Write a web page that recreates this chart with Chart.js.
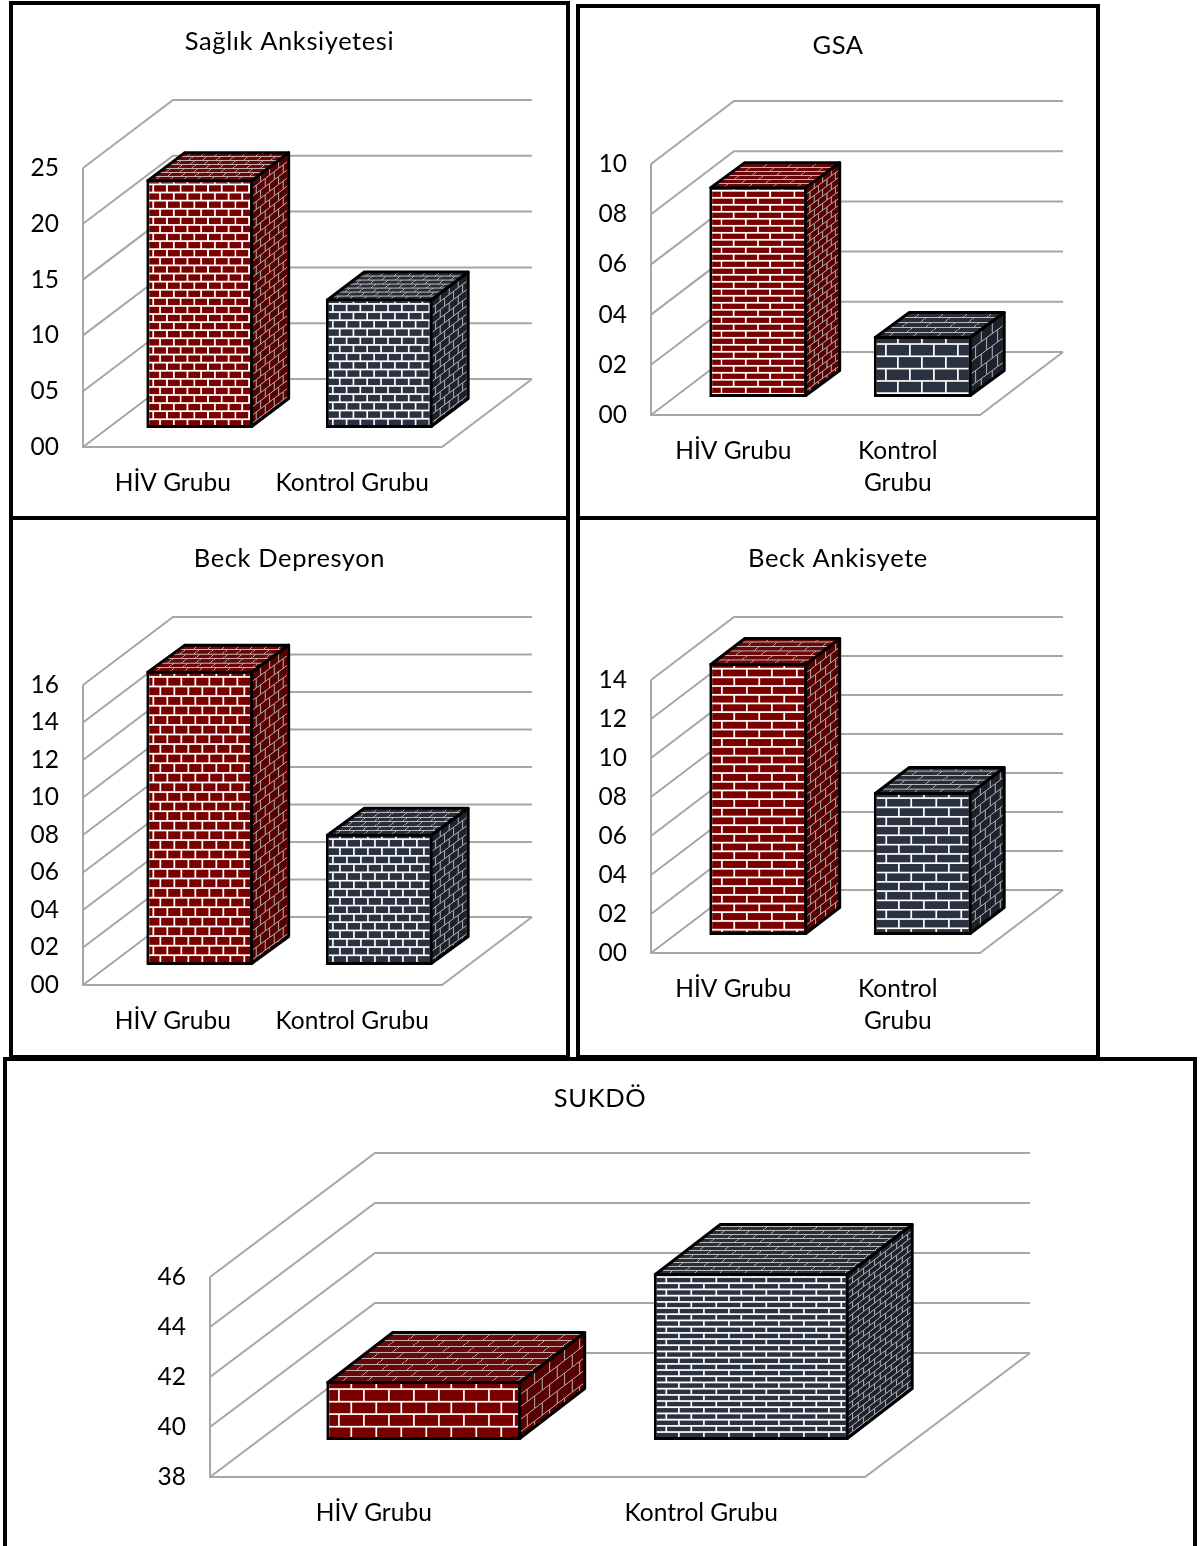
<!DOCTYPE html>
<html>
<head>
<meta charset="utf-8">
<title>Ölçek puanları</title>
<script src="https://cdn.jsdelivr.net/npm/chart.js@4"></script>
<style>
  html, body { margin: 0; padding: 0; background: #fff; }
  body { position: relative; width: 1202px; height: 1546px; overflow: hidden; }
  canvas { position: absolute; display: block; }
  .frame { position: absolute; box-sizing: border-box; border: 4px solid #000; pointer-events: none; }
</style>
</head>
<body>
<script>
const groupLabels = ['HİV Grubu', 'Kontrol Grubu'];
const groupLabelsWrapped = ['HİV Grubu', ['Kontrol', 'Grubu']];

const saglikValues = [22.3, 11.6];
const gsaValues = [8.4, 2.43];
const depresyonValues = [15.7, 7.0];
const ankisyeteValues = [13.95, 7.33];
const sukdoValues = [40.36, 44.68];

const FONT = 'Lato';
const GRID_COLOR = '#a6a6a6';

const RED = { brick: '#7a0000', edge: '#a04848', mortar: '#ffffff', side: '#560000', top: '#680808', sideMortar: '#a89a9a', topMortar: '#c4b0b0' };
const SLATE = { brick: '#2a3140', edge: '#5a606c', mortar: '#ffffff', side: '#1d212b', top: '#2b2e36', sideMortar: '#a0a2a6', topMortar: '#b8babd' };

// w/h = brick size on the front, sideW/topH = how much it squashes on the other two faces
const panels = [
  { title: 'Sağlık Anksiyetesi', labels: groupLabels, values: saglikValues, min: 0, max: 25, step: 5,
    frame: [9, 1, 561, 519], plot: [83, 168, 442, 447], wall: [90, -68], shift: [27, -19], depth: [37, -28], titleY: 42,
    bricks: [{ w: 13.7, h: 8.1, sideW: 9, topH: 4 }, { w: 13.8, h: 8.2, sideW: 9, topH: 4 }] },
  { title: 'GSA', labels: groupLabelsWrapped, values: gsaValues, min: 0, max: 10, step: 2,
    frame: [576, 4, 524, 516], plot: [651, 164, 980, 415], wall: [83, -63], shift: [25, -18], depth: [34, -25], titleY: 46,
    bricks: [{ w: 24.3, h: 7, sideW: 8.5, topH: 4 }, { w: 24, h: 12.3, sideW: 11, topH: 5 }] },
  { title: 'Beck Depresyon', labels: groupLabels, values: depresyonValues, min: 0, max: 16, step: 2,
    frame: [9, 516, 561, 543], plot: [83, 685, 442, 985], wall: [90, -68], shift: [27, -20], depth: [37, -27], titleY: 559,
    bricks: [{ w: 14, h: 9.6, sideW: 9, topH: 4.5 }, { w: 14, h: 8.3, sideW: 9, topH: 4.5 }] },
  { title: 'Beck Ankisyete', labels: groupLabelsWrapped, values: ankisyeteValues, min: 0, max: 14, step: 2,
    frame: [576, 516, 524, 543], plot: [651, 680, 980, 953], wall: [83, -63], shift: [25, -18], depth: [34, -26], titleY: 559,
    bricks: [{ w: 25, h: 8.7, sideW: 10, topH: 4.5 }, { w: 25, h: 9.3, sideW: 10, topH: 4.5 }] },
  { title: 'SUKDÖ', labels: groupLabels, values: sukdoValues, min: 38, max: 46, step: 2,
    frame: [3, 1057, 1194, 498], plot: [210, 1277, 865, 1477], wall: [165, -124], shift: [50, -37], depth: [65, -50], titleY: 1099,
    bricks: [{ w: 25, h: 12.5, sideW: 15, topH: 6 }, { w: 25, h: 6.2, sideW: 11, topH: 4 }] }
];

const TILE_SCALE = 2;

function tileUnit(len) {
  return Math.max(2, Math.round(len * TILE_SCALE));
}

function brickTile(w, h, color, edge, mortar, gap) {
  const c = document.createElement('canvas');
  const tw = tileUnit(w);
  const th = tileUnit(h);
  c.width = tw;
  c.height = th * 2;
  const g = c.getContext('2d');
  const m = gap * TILE_SCALE;
  g.fillStyle = mortar;
  g.fillRect(0, 0, tw, th * 2);
  const brick = (x, y) => {
    g.fillStyle = edge;
    g.fillRect(x + m / 2, y + m / 2, tw - m, th - m);
    g.fillStyle = color;
    g.fillRect(x + m / 2 + 0.5, y + m / 2 + 0.5, tw - m - 1, th - m - 1);
  };
  brick(0, 0);
  brick(-tw / 2, th);
  brick(tw / 2, th);
  return c;
}

function makePatterns(ctx, size, colors) {
  return {
    front: ctx.createPattern(brickTile(size.w, size.h, colors.brick, colors.edge, colors.mortar, 1.6), 'repeat'),
    side: ctx.createPattern(brickTile(size.sideW, size.h, colors.side, colors.side, colors.sideMortar, 1.2), 'repeat'),
    top: ctx.createPattern(brickTile(size.w, size.topH, colors.top, colors.top, colors.topMortar, 1), 'repeat')
  };
}

function barBox(el, p) {
  const left = el.x - el.width / 2 + p.shift[0];
  const top = el.y + p.shift[1];
  const bottom = el.base + p.shift[1];
  return { left, right: left + el.width, top, bottom };
}

function face(ctx, pts, fill) {
  ctx.beginPath();
  pts.forEach((pt, i) => (i ? ctx.lineTo(pt[0], pt[1]) : ctx.moveTo(pt[0], pt[1])));
  ctx.closePath();
  ctx.fillStyle = fill;
  ctx.fill();
  ctx.stroke();
}

// floor, back wall and the lines running along the side wall, all hung off the y scale
const wallPlugin = {
  id: 'wall3d',
  beforeDatasetsDraw(chart) {
    const p = chart.options.plugins.wall3d.panel;
    const { ctx, chartArea: a, scales: { y } } = chart;
    const [dx, dy] = p.wall;
    ctx.save();
    ctx.strokeStyle = GRID_COLOR;
    ctx.lineWidth = 2;
    ctx.beginPath();
    ctx.moveTo(a.left, a.top);
    ctx.lineTo(a.left, a.bottom);
    ctx.lineTo(a.right, a.bottom);
    ctx.lineTo(a.right + dx, a.bottom + dy);
    for (const t of y.ticks) {
      const py = y.getPixelForValue(t.value);
      ctx.moveTo(a.left, py);
      ctx.lineTo(a.left + dx, py + dy);
      ctx.lineTo(a.right + dx, py + dy);
    }
    ctx.stroke();
    ctx.restore();
  },
  afterDraw(chart) {
    const p = chart.options.plugins.wall3d.panel;
    const ctx = chart.ctx;
    ctx.save();
    ctx.font = `25.5px ${FONT}`;
    ctx.letterSpacing = '0.6px';
    ctx.fillStyle = '#000';
    ctx.textAlign = 'center';
    ctx.textBaseline = 'middle';
    ctx.fillText(p.title, p.frame[2] / 2, p.titleY - p.frame[1]);
    ctx.restore();
  }
};

// the library fills the front face, shifted back onto the floor; side and top are added here
const boxPlugin = {
  id: 'box3d',
  beforeDatasetDraw(chart) {
    const p = chart.options.plugins.wall3d.panel;
    chart.getDatasetMeta(0).data.forEach((el, i) => {
      const b = barBox(el, p);
      const size = p.bricks[i];
      p.faces[i].front.setTransform(new DOMMatrix([
        size.w / tileUnit(size.w), 0, 0, size.h / tileUnit(size.h),
        b.left - p.shift[0], b.top - p.shift[1] - size.h * 0.35
      ]));
    });
    chart.ctx.save();
    chart.ctx.translate(p.shift[0], p.shift[1]);
  },
  afterDatasetDraw(chart) {
    chart.ctx.restore();
  },
  afterDatasetsDraw(chart) {
    const p = chart.options.plugins.wall3d.panel;
    const ctx = chart.ctx;
    const [dx, dy] = p.depth;
    ctx.save();
    ctx.strokeStyle = '#000';
    ctx.lineWidth = 3;
    ctx.lineJoin = 'round';
    chart.getDatasetMeta(0).data.forEach((el, i) => {
      const b = barBox(el, p);
      const size = p.bricks[i];
      const l = b.left + 1.5;
      const r = b.right - 1.5;
      const t = b.top + 1.5;
      const u = b.bottom - 1.5;

      // rows climb along the receding edge on the side, columns lean along it on the top
      const sx = size.sideW / tileUnit(size.sideW);
      p.faces[i].side.setTransform(new DOMMatrix([
        sx, sx * (dy / dx), 0, size.h / tileUnit(size.h), r, t
      ]));
      face(ctx, [[r, t], [r + dx, t + dy], [r + dx, u + dy], [r, u]], p.faces[i].side);

      const ry = size.topH / tileUnit(size.topH);
      p.faces[i].top.setTransform(new DOMMatrix([
        size.w / tileUnit(size.w), 0, ry * (dx / dy), ry, l, t
      ]));
      face(ctx, [[l, t], [l + dx, t + dy], [r + dx, t + dy], [r, t]], p.faces[i].top);
    });
    ctx.restore();
  }
};

function drawPanel(p) {
  const [fx, fy, fw, fh] = p.frame;
  const [left, top, right, bottom] = p.plot;

  const canvas = document.createElement('canvas');
  canvas.width = fw;
  canvas.height = fh;
  canvas.style.left = fx + 'px';
  canvas.style.top = fy + 'px';
  document.body.appendChild(canvas);

  const frame = document.createElement('div');
  frame.className = 'frame';
  frame.style.cssText = `left:${fx}px;top:${fy}px;width:${fw}px;height:${fh}px`;
  document.body.appendChild(frame);

  const colors = [RED, SLATE];
  p.faces = p.bricks.map((size, i) => makePatterns(canvas.getContext('2d'), size, colors[i]));

  const fontSize = 24.5;
  const lineH = 32;

  new Chart(canvas, {
    type: 'bar',
    data: {
      labels: p.labels,
      datasets: [{
        data: p.values,
        base: p.min,
        backgroundColor: c => p.faces[c.dataIndex].front,
        borderColor: '#000',
        borderWidth: 3,
        borderSkipped: false,
        barPercentage: 0.595,
        categoryPercentage: 1,
        clip: false
      }]
    },
    options: {
      responsive: false,
      animation: false,
      events: [],
      layout: { padding: { left: 0, top: top - fy, right: fx + fw - right, bottom: 0 } },
      plugins: {
        legend: { display: false },
        tooltip: { enabled: false },
        wall3d: { panel: p },
        box3d: {}
      },
      scales: {
        x: {
          grid: { display: false },
          border: { display: false },
          afterFit: s => { s.height = fy + fh - bottom; },
          ticks: {
            color: '#000',
            maxRotation: 0,
            autoSkip: false,
            padding: 12,
            font: { family: FONT, size: fontSize, lineHeight: lineH / fontSize }
          }
        },
        y: {
          min: p.min,
          max: p.max,
          grid: { display: false },
          border: { display: false },
          afterFit: s => { s.width = left - fx; },
          ticks: {
            color: '#000',
            stepSize: p.step,
            padding: 16,
            font: { family: FONT, size: fontSize },
            callback: v => String(v).padStart(2, '0')
          }
        }
      }
    },
    plugins: [wallPlugin, boxPlugin]
  });
}

panels.forEach(drawPanel);
</script>
</body>
</html>
